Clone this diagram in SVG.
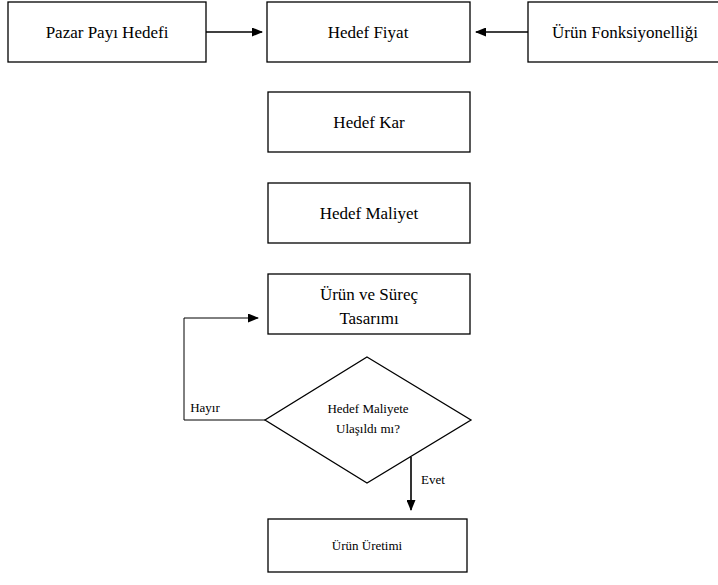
<svg xmlns="http://www.w3.org/2000/svg" width="718" height="585" viewBox="0 0 718 585">
<style>
.box{fill:#fff;stroke:#000;stroke-width:1.3}
text{fill:#000;text-anchor:middle;font-family:"Liberation Serif","DejaVu Serif","Times New Roman",serif}
.l{font-size:17px}
.s{font-size:13px}
.c{fill:none;stroke:#000;stroke-width:1.6}
.c2{fill:none;stroke:#000;stroke-width:1}
</style>
<defs>
<marker id="ah" markerWidth="11" markerHeight="9" refX="10" refY="4.5" orient="auto" markerUnits="userSpaceOnUse">
<path d="M0,0 L11,4.5 L0,9 Z" fill="#000"/>
</marker>
</defs>
<rect width="718" height="585" fill="#fff"/>
<g id="connectors">
<line class="c" x1="206" y1="32" x2="262" y2="32" marker-end="url(#ah)"/>
<line class="c" x1="528" y1="32" x2="476" y2="32" marker-end="url(#ah)"/>
<polyline class="c2" points="265,420 184,420 184,318 258,318" marker-end="url(#ah)"/>
<line class="c" x1="411" y1="457" x2="411" y2="510" marker-end="url(#ah)"/>
<text class="s" x="205" y="412">Hayır</text>
<text class="s" x="433" y="484">Evet</text>
</g>
<g id="pazar"><rect class="box" x="8" y="2" width="198" height="60"/><text class="l" x="107" y="38">Pazar Payı Hedefi</text></g>
<g id="fiyat"><rect class="box" x="267" y="2" width="203" height="60"/><text class="l" x="368" y="38">Hedef Fiyat</text></g>
<g id="fonk"><rect class="box" x="528" y="2" width="195" height="60"/><text class="l" x="625" y="38">Ürün Fonksiyonelliği</text></g>
<g id="kar"><rect class="box" x="268" y="92" width="202" height="60"/><text class="l" x="369" y="128">Hedef Kar</text></g>
<g id="maliyet"><rect class="box" x="268" y="183" width="202" height="60"/><text class="l" x="369" y="219">Hedef Maliyet</text></g>
<g id="tasarim"><rect class="box" x="268" y="274" width="202" height="60"/><text class="l" x="369" y="300">Ürün ve Süreç</text><text class="l" x="369" y="324">Tasarımı</text></g>
<g id="karar"><polygon class="box" points="367,357 471,420 367,483 265,420"/><text class="s" x="368" y="413">Hedef Maliyete</text><text class="s" x="368" y="433">Ulaşıldı mı?</text></g>
<g id="uretim"><rect class="box" x="268" y="519" width="199" height="53"/><text class="s" x="367" y="550">Ürün Üretimi</text></g>
</svg>
